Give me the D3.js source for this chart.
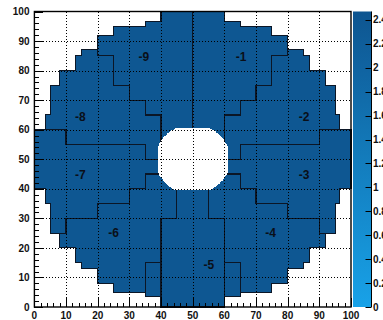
<!DOCTYPE html>
<html><head><meta charset="utf-8">
<script src="https://cdn.jsdelivr.net/npm/d3@7"></script>
<style>html,body{margin:0;padding:0;background:#fff;overflow:hidden}</style>
</head><body>
<svg id="c" width="383" height="320"></svg>
<script>
// ---------- data ----------
const xTicks = [0,10,20,30,40,50,60,70,80,90,100];
const yTicks = [0,10,20,30,40,50,60,70,80,90,100];
const zTicks = [0,0.2,0.4,0.6,0.8,1,1.2,1.4,1.6,1.8,2,2.2,2.4];
const zMax = 2.47;
// outer staircase edge of the filled area (one quadrant): x break points and top y of each step
const edgeX   = [0,3.5,5,8,13,15,20,25,35,40,50];
const edgeTop = [60,65,75,80,85,87,92,95,96.5,100];
// sectors
const sectorNames  = ["-1","-2","-3","-4","-5","-6","-7","-8","-9"];
const sectorValues = [2.4,2.4,2.4,2.4,2.4,2.4,2.4,2.4,2.4];
const labelX = [65.3,85.2,85.2,74.6,55.1,25.0,14.5,14.5,34.6];
const labelY = [84.6,64.4,44.7,25.0,14.3,25.0,44.7,64.4,84.6];
// central hole
const holeCenter = [50,50];
const holeHalfX = 11;
const holeHalfY = 10.5;
const holeRadius = 11.8;
const holeStep = 0.25;
// sector boundary lines
const sectorLines = [
  [[50,100],[50,55]],
  [[80,87],[80,85],[75,85],[75,75],[70,75],[70,70],[65,70],[65,65],[60,65],[60,52]],
  [[100,60],[90,60],[90,55],[65,55],[65,50],[55,50]],
  [[95,25],[90,25],[90,30],[80,30],[80,35],[70,35],[70,40],[65,40],[65,45],[55,45]],
  [[55,45],[55,30],[60,30],[60,0]],
  [[65,5],[65,15],[60,15]],
  [[45,45],[45,30],[40,30],[40,0]],
  [[35,3.5],[35,15],[40,15]],
  [[5,25],[10,25],[10,30],[20,30],[20,35],[30,35],[30,40],[35,40],[35,45],[45,45]],
  [[0,60],[10,60],[10,55],[35,55],[35,50],[45,50]],
  [[20,87],[20,85],[25,85],[25,75],[30,75],[30,70],[35,70],[35,65],[40,65],[40,52]]
];

// ---------- layout ----------
const svg = d3.select("#c");
const x = d3.scaleLinear().domain([0,100]).range([34.4,351]);
const y = d3.scaleLinear().domain([0,100]).range([307,11.5]);
const z = d3.scaleLinear().domain([0,zMax]).range([307,11.5]);
const color = d3.scaleLinear().domain([0,zMax]).range(["#18a2e8","#0e5590"]).interpolate(d3.interpolateRgb);
const font = "'Liberation Sans', Arial, Helvetica, sans-serif";

// outer polygon
const pts = [];
pts.push([0,100-edgeTop[0]]);
for (let i=0;i<edgeTop.length;i++){ pts.push([edgeX[i],edgeTop[i]]); pts.push([edgeX[i+1],edgeTop[i]]); }
for (let i=edgeTop.length-1;i>=0;i--){ pts.push([100-edgeX[i+1],edgeTop[i]]); pts.push([100-edgeX[i],edgeTop[i]]); }
for (let i=0;i<edgeTop.length;i++){ pts.push([100-edgeX[i],100-edgeTop[i]]); pts.push([100-edgeX[i+1],100-edgeTop[i]]); }
for (let i=edgeTop.length-1;i>=0;i--){ pts.push([edgeX[i+1],100-edgeTop[i]]); pts.push([edgeX[i],100-edgeTop[i]]); }
const line = d3.line().x(d=>x(d[0])).y(d=>y(d[1]));

svg.append("path").attr("d", line(pts)+"Z")
  .attr("fill", color(d3.mean(sectorValues)))
  .attr("stroke","#0b1626").attr("stroke-width",1.1)
  .attr("shape-rendering","crispEdges");

// sector lines
svg.append("g").selectAll("path").data(sectorLines).join("path")
  .attr("d", d=>line(d)).attr("fill","none")
  .attr("stroke","#0b1626").attr("stroke-width",1.2)
  .attr("shape-rendering","crispEdges");

// hole (pixelated: circle clipped by a box)
const hTop=[];
const nCol = Math.round(2*holeHalfX/holeStep);
for (let c=0;c<nCol;c++){
  const x0 = holeCenter[0]-holeHalfX + c*holeStep;
  const dx = x0+holeStep/2-holeCenter[0];
  const lim = Math.min(holeHalfY, Math.sqrt(Math.max(0,holeRadius*holeRadius-dx*dx)));
  const k = Math.floor((lim-holeStep/2)/holeStep+1e-9);
  const h = holeStep*(k+1);
  hTop.push([x0,holeCenter[1]+h],[x0+holeStep,holeCenter[1]+h]);
}
const hb=[];
for (let i=hTop.length-1;i>=0;i--) hb.push([hTop[i][0], 2*holeCenter[1]-hTop[i][1]]);
svg.append("path").attr("d", line(hTop.concat(hb))+"Z")
  .attr("fill","#fff").attr("shape-rendering","crispEdges");

// grid
const g = svg.append("g").attr("stroke","#000").attr("stroke-width",1)
  .attr("stroke-dasharray","1,2").attr("shape-rendering","crispEdges");
xTicks.slice(1,-1).forEach(t=>g.append("line").attr("x1",Math.round(x(t))+0.5).attr("x2",Math.round(x(t))+0.5).attr("y1",y(0)).attr("y2",y(100)));
yTicks.slice(1,-1).forEach(t=>g.append("line").attr("y1",Math.round(y(t))+0.5).attr("y2",Math.round(y(t))+0.5).attr("x1",x(0)).attr("x2",x(100)));

// frame
svg.append("rect").attr("x",x(0)).attr("y",y(100)).attr("width",x(100)-x(0)).attr("height",y(0)-y(100))
  .attr("fill","none").attr("stroke","#000").attr("stroke-width",1.4);

// axes ticks (inside)
const minor = d3.range(0,101,2);
const ax = svg.append("g").attr("stroke","#000").attr("stroke-width",1).attr("shape-rendering","crispEdges");
minor.forEach(t=>{
  const L = (t%10===0)?9:4.5;
  ax.append("line").attr("x1",Math.round(x(t))+0.5).attr("x2",Math.round(x(t))+0.5).attr("y1",y(0)).attr("y2",y(0)-L);
  ax.append("line").attr("y1",Math.round(y(t))+0.5).attr("y2",Math.round(y(t))+0.5).attr("x1",x(0)).attr("x2",x(0)+L);
});
svg.append("g").selectAll("text").data(xTicks).join("text")
  .attr("x",d=>x(d)).attr("y",319).attr("text-anchor","middle")
  .attr("font-family",font).attr("font-weight","bold").attr("font-size",10).attr("fill","#111").text(d=>d);
svg.append("g").selectAll("text").data(yTicks).join("text")
  .attr("x",29.5).attr("y",d=>y(d)+3.6).attr("text-anchor","end")
  .attr("font-family",font).attr("font-weight","bold").attr("font-size",10).attr("fill","#111").text(d=>d);

// sector labels
svg.append("g").selectAll("text").data(sectorNames).join("text")
  .attr("x",(d,i)=>x(labelX[i])).attr("y",(d,i)=>y(labelY[i])+4.3).attr("text-anchor","middle")
  .attr("font-family",font).attr("font-weight","bold").attr("font-size",12).attr("fill","#0a0f18").text(d=>d);

// colour bar
const defs = svg.append("defs");
const grad = defs.append("linearGradient").attr("id","pal").attr("x1",0).attr("y1",1).attr("x2",0).attr("y2",0);
d3.range(0,1.0001,0.1).forEach(t=>grad.append("stop").attr("offset",t).attr("stop-color",color(t*zMax)));
const cbx0=353, cbx1=371.5;
svg.append("rect").attr("x",cbx0).attr("y",z(zMax)).attr("width",cbx1-cbx0).attr("height",z(0)-z(zMax)).attr("fill","url(#pal)");
svg.append("line").attr("x1",cbx1).attr("x2",cbx1).attr("y1",z(zMax)).attr("y2",z(0)).attr("stroke","#000").attr("stroke-width",1);
const cb = svg.append("g");
zTicks.forEach(t=>{
  cb.append("line").attr("x1",cbx1-6).attr("x2",cbx1).attr("y1",Math.round(z(t))+0.5).attr("y2",Math.round(z(t))+0.5)
    .attr("stroke","#000").attr("stroke-width",1);
  cb.append("text").attr("x",cbx1+1.5).attr("y",z(t)+3.6).attr("font-family",font).attr("font-weight","bold")
    .attr("font-size",10).attr("fill","#111").text(t);
});
</script>
</body></html>
